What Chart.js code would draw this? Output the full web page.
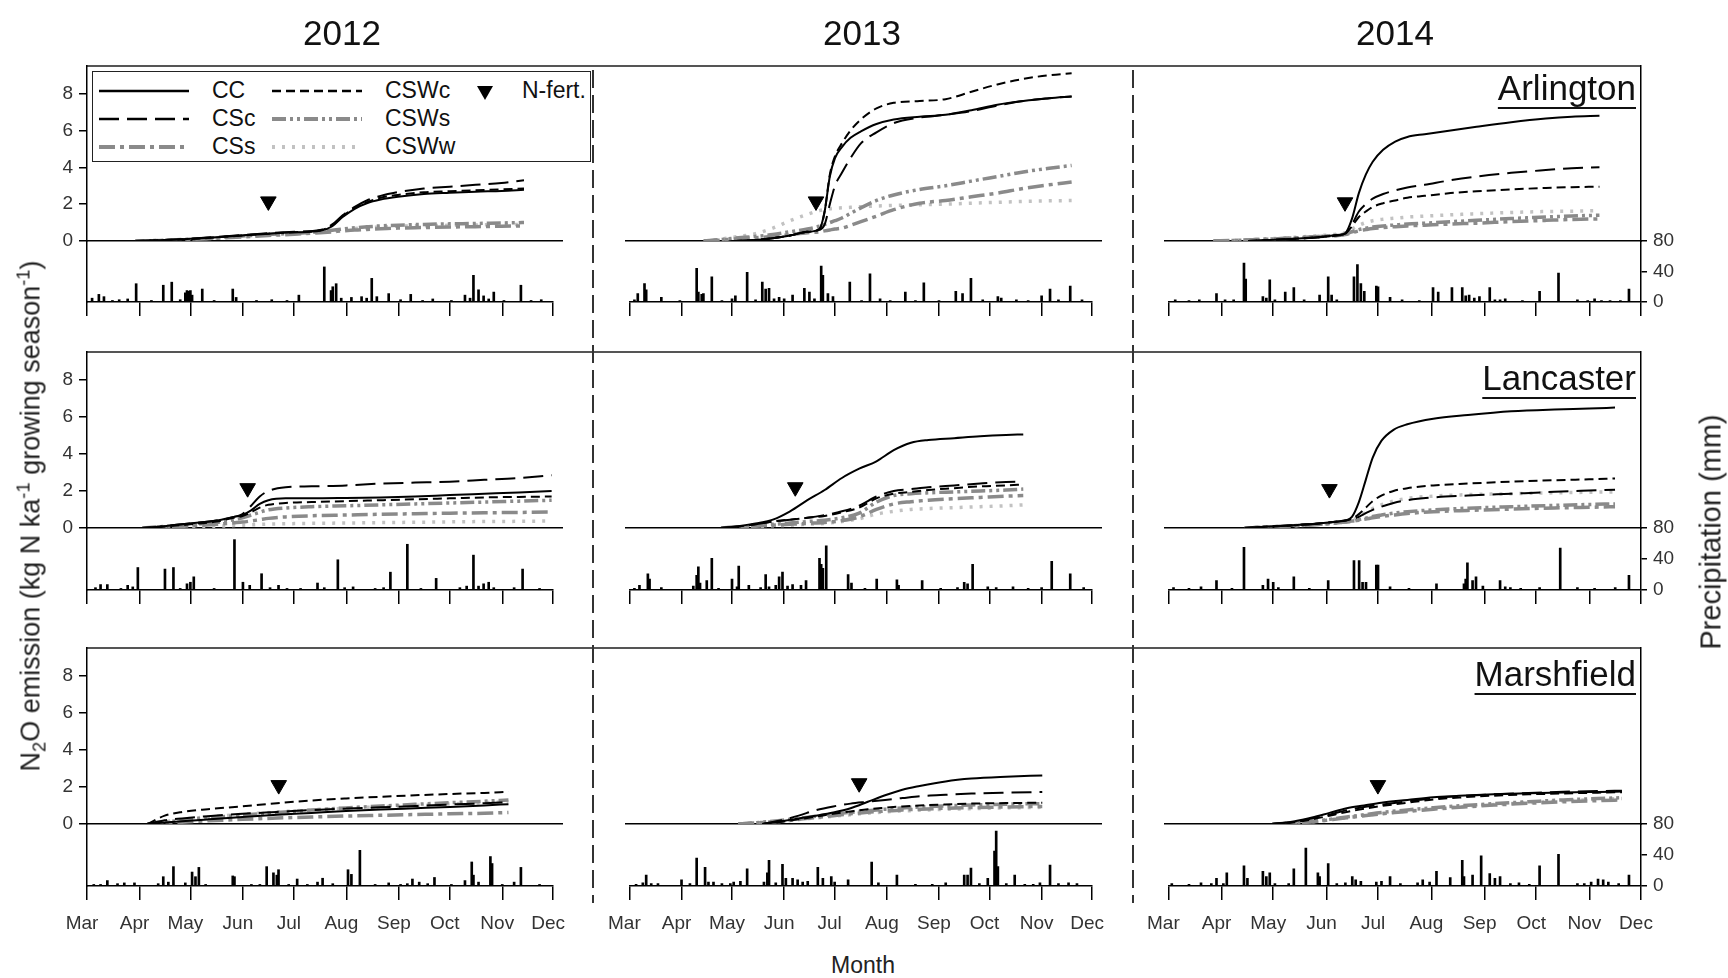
<!DOCTYPE html>
<html><head><meta charset="utf-8">
<script src="https://cdn.jsdelivr.net/npm/chart.js@4.4.1/dist/chart.umd.min.js"></script>
<style>
body{margin:0;background:#fff;}
#fig{position:relative;width:1728px;height:978px;overflow:hidden;font-family:"Liberation Sans",Arial,sans-serif;color:#111;}
#fig canvas{position:absolute;}
.t{position:absolute;white-space:nowrap;line-height:1;}
.c{transform:translate(-50%,-50%);}
.rot{transform:translate(-50%,-50%) rotate(-90deg);}
sub,sup{font-size:0.68em;line-height:0;}
</style></head><body><div id="fig"></div>
<script>
// ---------------- DATA ----------------
const years = ['2012','2013','2014'];
const sites = ['Arlington','Lancaster','Marshfield'];
const months = ['Mar','Apr','May','Jun','Jul','Aug','Sep','Oct','Nov','Dec'];
const monthDays = [0,31,61,92,122,153,184,214,245,275];   // days after 1 March
const n2oTicks = [0,2,4,6,8];
const rainTicks = [0,40,80];
const seriesNames = ['CC','CSc','CSs','CSWc','CSWs','CSWw'];
const fertLabel = 'N-fert.';

// Arlington 2012
const arl2012Days = [28,45,60,75,90,105,120,135,142,148,155,162,170,180,195,210,225,240,253];
const arl2012CC   = [0,0.05,0.12,0.2,0.3,0.4,0.47,0.55,0.8,1.3,1.75,2.05,2.25,2.4,2.55,2.62,2.68,2.72,2.78];
const arl2012CSc  = [0,0.05,0.12,0.22,0.32,0.42,0.5,0.6,0.9,1.4,1.85,2.2,2.45,2.65,2.85,2.95,3.05,3.15,3.3];
const arl2012CSs  = [0,0.03,0.08,0.15,0.22,0.3,0.37,0.45,0.5,0.55,0.6,0.63,0.66,0.7,0.73,0.76,0.78,0.8,0.82];
const arl2012CSWc = [0,0.05,0.1,0.2,0.3,0.4,0.48,0.58,0.85,1.35,1.8,2.1,2.35,2.5,2.65,2.7,2.75,2.8,2.85];
const arl2012CSWs = [0,0.04,0.1,0.18,0.27,0.35,0.42,0.5,0.58,0.65,0.72,0.77,0.82,0.86,0.9,0.93,0.95,0.98,1.0];
const arl2012CSWw = [0,0.04,0.1,0.17,0.25,0.33,0.4,0.48,0.55,0.62,0.68,0.72,0.76,0.8,0.83,0.85,0.87,0.89,0.9];
const arl2012Fert = [105,2.15];
const arl2012Rain = [[3,5],[7,10],[10,7],[15,2],[19,3],[24,4],[29,24],[38,2],[45,22],[50,26],[55,3],[58,12],[59,15],[60,14],[61,15],[62,9],[68,17],[75,2],[86,17],[88,6],[100,2],[109,3],[118,2],[125,9],[140,46],[144,15],[145,20],[147,24],[150,5],[156,6],[162,7],[165,5],[168,31],[171,7],[178,11],[185,3],[191,10],[198,2],[204,4],[215,2],[223,9],[226,5],[228,35],[231,16],[234,8],[237,4],[240,13],[246,2],[256,22],[262,2],[268,3]];

// Arlington 2013
const arl2013Days = [45,55,62,75,85,95,105,112,115,118,121,125,130,136,145,155,170,185,200,215,230,245,258];
const arl2013CC   = [null,null,0,0.05,0.15,0.3,0.5,0.65,1.6,3.5,4.5,5.1,5.6,5.95,6.35,6.6,6.75,6.85,7.1,7.4,7.6,7.75,7.85];
const arl2013CSc  = [null,null,0,0.05,0.15,0.3,0.5,0.6,0.9,2.0,3.0,3.7,4.5,5.3,5.9,6.4,6.7,6.85,7.05,7.35,7.6,7.75,7.85];
const arl2013CSs  = [0,0.05,0.1,0.18,0.25,0.35,0.45,0.5,0.55,0.6,0.65,0.7,0.85,1.05,1.35,1.7,2.05,2.2,2.4,2.6,2.85,3.05,3.2];
const arl2013CSWc = [null,null,0,0.05,0.15,0.3,0.5,0.65,1.6,3.6,4.6,5.3,6.0,6.6,7.2,7.5,7.6,7.7,8.1,8.5,8.8,9.0,9.1];
const arl2013CSWs = [0,0.08,0.15,0.25,0.35,0.5,0.65,0.8,0.9,1.0,1.1,1.25,1.5,1.8,2.2,2.5,2.8,3.0,3.25,3.5,3.75,3.95,4.1];
const arl2013CSWw = [0,0.1,0.2,0.4,0.7,1.1,1.45,1.65,1.7,1.75,1.78,1.8,1.83,1.86,1.9,1.93,1.97,2.0,2.05,2.1,2.15,2.18,2.2];
const arl2013Fert = [110,2.15];
const arl2013Rain = [[3,3],[5,11],[9,24],[10,16],[19,6],[30,2],[40,44],[41,13],[43,10],[44,11],[49,33],[55,2],[61,4],[63,8],[70,39],[75,3],[79,26],[81,17],[83,18],[86,4],[89,6],[92,4],[97,9],[104,18],[107,13],[110,4],[114,47],[115,35],[118,11],[121,7],[131,26],[138,2],[143,37],[149,4],[155,2],[164,13],[170,2],[175,25],[184,2],[194,14],[198,11],[203,31],[210,3],[219,7],[221,5],[230,3],[237,2],[245,8],[250,17],[255,3],[262,21],[269,3]];

// Arlington 2014
const arl2014Days = [28,40,48,60,75,90,100,104,108,112,116,120,126,133,140,150,165,180,200,220,235,251];
const arl2014CC   = [null,null,0,0.05,0.12,0.22,0.32,0.4,1.2,2.6,3.6,4.3,4.95,5.4,5.65,5.8,6.0,6.2,6.45,6.65,6.75,6.8];
const arl2014CSc  = [null,null,0,0.05,0.12,0.22,0.32,0.4,0.9,1.6,2.0,2.3,2.55,2.75,2.9,3.05,3.3,3.5,3.7,3.85,3.95,4.0];
const arl2014CSs  = [0,0.03,0.06,0.1,0.17,0.25,0.3,0.35,0.45,0.55,0.62,0.68,0.73,0.78,0.82,0.86,0.92,0.97,1.05,1.12,1.17,1.2];
const arl2014CSWc = [null,null,0,0.05,0.12,0.22,0.3,0.38,0.8,1.3,1.6,1.85,2.05,2.2,2.35,2.45,2.6,2.7,2.8,2.88,2.92,2.95];
const arl2014CSWs = [0,0.03,0.06,0.1,0.17,0.25,0.32,0.38,0.5,0.62,0.7,0.76,0.82,0.87,0.92,0.97,1.05,1.12,1.22,1.3,1.36,1.4];
const arl2014CSWw = [0,0.03,0.06,0.12,0.2,0.3,0.38,0.45,0.65,0.85,1.0,1.1,1.18,1.24,1.3,1.35,1.42,1.48,1.55,1.6,1.62,1.65];
const arl2014Fert = [104,2.1];
const arl2014Rain = [[4,3],[12,2],[18,3],[28,11],[33,3],[38,3],[44,51],[45,30],[55,7],[57,5],[59,29],[62,3],[68,13],[73,19],[79,3],[88,9],[93,33],[95,9],[98,3],[108,33],[110,49],[112,24],[114,14],[121,21],[122,20],[129,6],[136,3],[146,2],[154,19],[157,13],[165,19],[171,19],[173,8],[175,9],[178,5],[181,7],[187,19],[190,3],[193,3],[196,4],[206,2],[216,14],[227,38],[238,3],[244,2],[248,4],[252,2],[257,2],[263,2],[268,17]];

// Lancaster 2012
const lan2012Days = [32,45,60,75,85,90,95,100,105,115,130,150,170,190,210,230,250,269];
const lan2012CC   = [0,0.1,0.25,0.4,0.6,0.7,0.95,1.3,1.5,1.6,1.6,1.62,1.65,1.7,1.78,1.85,1.92,2.0];
const lan2012CSc  = [0,0.1,0.25,0.4,0.6,0.75,1.2,1.7,2.0,2.2,2.25,2.3,2.4,2.45,2.5,2.6,2.7,2.85];
const lan2012CSs  = [0,0.05,0.12,0.2,0.28,0.32,0.38,0.45,0.52,0.6,0.66,0.7,0.74,0.77,0.8,0.82,0.84,0.86];
const lan2012CSWc = [0,0.08,0.2,0.35,0.55,0.65,0.85,1.1,1.25,1.35,1.4,1.45,1.5,1.55,1.6,1.65,1.68,1.7];
const lan2012CSWs = [0,0.08,0.18,0.3,0.45,0.55,0.7,0.85,0.98,1.08,1.15,1.2,1.25,1.3,1.35,1.4,1.45,1.5];
const lan2012CSWw = [0,0.03,0.06,0.1,0.13,0.15,0.17,0.19,0.21,0.23,0.25,0.27,0.29,0.31,0.33,0.35,0.36,0.38];
const lan2012Fert = [93,2.15];
const lan2012Rain = [[5,3],[8,7],[12,7],[20,2],[24,6],[27,4],[30,29],[46,27],[51,29],[55,2],[59,8],[61,10],[63,17],[75,2],[87,65],[92,10],[96,6],[103,21],[108,3],[113,6],[118,2],[126,2],[136,9],[140,3],[148,39],[152,3],[157,4],[170,2],[175,3],[179,23],[189,59],[197,2],[206,15],[220,3],[224,5],[228,45],[231,5],[234,8],[237,10],[240,3],[252,3],[257,27],[267,2]];

// Lancaster 2013
const lan2013Days = [55,65,75,85,95,105,115,125,135,145,155,165,175,190,205,220,230];
const lan2013CC   = [0,0.1,0.25,0.45,0.9,1.5,2.05,2.7,3.2,3.6,4.2,4.6,4.75,4.85,4.95,5.02,5.05];
const lan2013CSc  = [0,0.08,0.2,0.35,0.45,0.55,0.7,0.9,1.2,1.7,2.0,2.1,2.2,2.3,2.4,2.48,2.5];
const lan2013CSs  = [0,0.05,0.1,0.15,0.2,0.25,0.3,0.4,0.6,1.0,1.3,1.42,1.5,1.58,1.65,1.72,1.75];
const lan2013CSWc = [0,0.08,0.2,0.35,0.45,0.55,0.65,0.85,1.1,1.6,1.85,1.95,2.05,2.15,2.25,2.3,2.35];
const lan2013CSWs = [0,0.06,0.12,0.2,0.27,0.35,0.42,0.55,0.8,1.4,1.75,1.85,1.9,1.95,2.0,2.05,2.1];
const lan2013CSWw = [0,0.04,0.08,0.12,0.15,0.2,0.25,0.35,0.5,0.75,0.9,1.0,1.05,1.1,1.15,1.2,1.25];
const lan2013Fert = [98,2.2];
const lan2013Rain = [[3,2],[6,6],[11,21],[12,14],[19,3],[38,5],[40,19],[41,30],[42,9],[46,12],[49,41],[53,2],[61,14],[64,4],[65,31],[71,6],[78,3],[81,20],[83,4],[87,6],[89,17],[91,23],[94,5],[97,7],[102,6],[105,12],[113,41],[114,33],[115,28],[117,57],[130,20],[132,9],[140,2],[147,14],[159,13],[160,6],[174,12],[185,2],[195,3],[199,10],[201,8],[204,33],[213,4],[218,3],[228,4],[237,2],[245,3],[251,37],[262,21],[270,3]];

// Lancaster 2014
const lan2014Days = [46,60,75,90,100,104,108,112,116,120,125,132,140,155,175,200,225,245,260];
const lan2014CC   = [0,0.08,0.15,0.25,0.35,0.4,0.6,1.4,2.6,3.8,4.7,5.3,5.6,5.9,6.1,6.3,6.4,6.45,6.5];
const lan2014CSc  = [0,0.08,0.15,0.25,0.35,0.4,0.48,0.6,0.8,0.98,1.15,1.35,1.5,1.65,1.75,1.85,1.95,2.02,2.07];
const lan2014CSs  = [0,0.06,0.12,0.2,0.28,0.32,0.36,0.42,0.48,0.55,0.62,0.7,0.78,0.88,0.95,1.02,1.08,1.12,1.15];
const lan2014CSWc = [0,0.08,0.15,0.25,0.35,0.4,0.5,0.75,1.1,1.45,1.75,2.0,2.15,2.3,2.4,2.5,2.58,2.63,2.67];
const lan2014CSWs = [0,0.06,0.12,0.2,0.28,0.32,0.37,0.45,0.53,0.62,0.7,0.8,0.88,0.98,1.07,1.15,1.22,1.27,1.3];
const lan2014CSWw = [0,0.07,0.14,0.22,0.3,0.35,0.42,0.6,0.85,1.05,1.25,1.45,1.6,1.72,1.8,1.85,1.9,1.93,1.95];
const lan2014Fert = [95,2.1];
const lan2014Rain = [[3,3],[12,2],[19,4],[28,12],[37,2],[44,55],[55,6],[58,14],[61,10],[64,3],[73,17],[82,2],[93,12],[108,38],[111,38],[113,10],[115,10],[121,32],[122,32],[129,4],[140,2],[156,8],[172,8],[173,14],[174,35],[177,12],[179,17],[183,5],[193,12],[196,4],[199,3],[205,2],[216,3],[228,54],[238,3],[248,2],[260,3],[268,19]];

// Marshfield 2012
const mar2012Days = [35,45,55,70,90,110,130,150,170,190,210,230,244];
const mar2012CC   = [0,0.08,0.15,0.25,0.38,0.5,0.6,0.7,0.78,0.85,0.92,1.0,1.07];
const mar2012CSc  = [0,0.2,0.3,0.42,0.55,0.65,0.75,0.83,0.9,0.97,1.05,1.12,1.18];
const mar2012CSs  = [0,0.05,0.1,0.17,0.25,0.32,0.38,0.43,0.47,0.51,0.55,0.58,0.62];
const mar2012CSWc = [0,0.45,0.65,0.8,0.95,1.12,1.27,1.38,1.47,1.55,1.62,1.68,1.74];
const mar2012CSWs = [0,0.1,0.2,0.33,0.48,0.62,0.75,0.87,0.97,1.06,1.15,1.23,1.3];
const mar2012CSWw = [0,0.12,0.25,0.38,0.52,0.65,0.76,0.85,0.93,1.0,1.08,1.15,1.2];
const mar2012Fert = [111,2.1];
const mar2012Rain = [[4,2],[8,2],[12,7],[18,3],[22,4],[28,4],[42,3],[45,12],[48,5],[51,25],[58,4],[62,18],[64,12],[66,24],[70,2],[86,13],[87,12],[97,2],[102,2],[106,25],[110,17],[112,14],[113,21],[119,2],[124,9],[130,2],[136,5],[139,10],[145,3],[154,21],[156,15],[161,46],[170,2],[178,4],[185,2],[189,3],[192,9],[196,5],[201,3],[205,11],[215,2],[223,7],[227,31],[228,14],[231,5],[238,38],[239,29],[245,2],[252,5],[256,24],[267,2]];

// Marshfield 2013
const mar2013Days = [65,79,90,100,110,120,130,140,150,160,170,185,200,220,241];
const mar2013CC   = [null,0,0.15,0.3,0.45,0.62,0.85,1.2,1.55,1.85,2.05,2.3,2.45,2.55,2.62];
const mar2013CSc  = [null,0,0.2,0.45,0.75,0.95,1.1,1.2,1.3,1.4,1.5,1.58,1.64,1.69,1.73];
const mar2013CSs  = [0,0.08,0.15,0.25,0.35,0.45,0.55,0.63,0.7,0.76,0.8,0.85,0.89,0.92,0.95];
const mar2013CSWc = [null,0,0.12,0.25,0.4,0.55,0.68,0.8,0.88,0.95,1.0,1.05,1.1,1.13,1.15];
const mar2013CSWs = [0,0.1,0.2,0.3,0.42,0.53,0.63,0.72,0.8,0.87,0.92,0.98,1.03,1.07,1.1];
const mar2013CSWw = [0,0.08,0.15,0.24,0.33,0.42,0.5,0.58,0.65,0.7,0.74,0.79,0.83,0.87,0.9];
const mar2013Fert = [135,2.2];
const mar2013Rain = [[4,2],[8,4],[10,14],[13,3],[17,3],[31,8],[36,3],[40,36],[45,24],[47,5],[50,5],[55,3],[60,3],[62,5],[66,6],[70,22],[80,5],[82,17],[83,33],[87,4],[91,28],[93,10],[97,10],[100,8],[103,5],[106,6],[112,24],[115,10],[120,12],[122,5],[130,8],[144,31],[148,4],[159,14],[170,2],[180,2],[188,4],[199,14],[201,14],[203,23],[208,3],[213,10],[217,45],[218,71],[219,25],[224,3],[229,14],[235,2],[240,2],[244,4],[250,27],[255,3],[261,4],[266,3]];

// Marshfield 2014
const mar2014Days = [62,75,85,95,105,115,125,140,155,170,190,210,230,250,264];
const mar2014CC   = [0,0.15,0.35,0.6,0.85,1.0,1.15,1.3,1.45,1.52,1.6,1.66,1.7,1.73,1.75];
const mar2014CSc  = [0,0.12,0.3,0.5,0.75,0.92,1.05,1.22,1.4,1.5,1.6,1.68,1.74,1.78,1.8];
const mar2014CSs  = [0,0.05,0.12,0.22,0.33,0.45,0.55,0.68,0.8,0.9,1.02,1.12,1.2,1.26,1.3];
const mar2014CSWc = [0,0.1,0.25,0.45,0.65,0.82,0.97,1.15,1.32,1.43,1.53,1.6,1.65,1.69,1.72];
const mar2014CSWs = [0,0.06,0.14,0.25,0.38,0.5,0.62,0.76,0.88,0.98,1.1,1.2,1.3,1.37,1.42];
const mar2014CSWw = [0,0.05,0.12,0.22,0.34,0.46,0.57,0.7,0.83,0.93,1.05,1.15,1.25,1.33,1.38];
const mar2014Fert = [123,2.1];
const mar2014Rain = [[2,3],[12,2],[19,4],[25,3],[28,10],[32,3],[34,17],[44,26],[46,10],[55,19],[57,12],[59,17],[62,3],[70,3],[73,22],[80,49],[87,17],[88,12],[93,29],[98,3],[103,4],[107,12],[109,8],[112,6],[121,5],[124,6],[129,12],[135,3],[145,4],[148,8],[152,5],[156,19],[164,11],[171,33],[172,12],[177,14],[182,39],[187,16],[190,10],[193,12],[199,3],[204,4],[210,2],[216,26],[227,41],[238,3],[242,3],[246,5],[250,9],[253,8],[256,5],[262,3],[268,14]];

// ---------------- PANEL TABLE ----------------
const panels = [
 {row:0,col:0,days:arl2012Days,s:{CC:arl2012CC,CSc:arl2012CSc,CSs:arl2012CSs,CSWc:arl2012CSWc,CSWs:arl2012CSWs,CSWw:arl2012CSWw},fert:arl2012Fert,rain:arl2012Rain},
 {row:0,col:1,days:arl2013Days,s:{CC:arl2013CC,CSc:arl2013CSc,CSs:arl2013CSs,CSWc:arl2013CSWc,CSWs:arl2013CSWs,CSWw:arl2013CSWw},fert:arl2013Fert,rain:arl2013Rain},
 {row:0,col:2,days:arl2014Days,s:{CC:arl2014CC,CSc:arl2014CSc,CSs:arl2014CSs,CSWc:arl2014CSWc,CSWs:arl2014CSWs,CSWw:arl2014CSWw},fert:arl2014Fert,rain:arl2014Rain},
 {row:1,col:0,days:lan2012Days,s:{CC:lan2012CC,CSc:lan2012CSc,CSs:lan2012CSs,CSWc:lan2012CSWc,CSWs:lan2012CSWs,CSWw:lan2012CSWw},fert:lan2012Fert,rain:lan2012Rain},
 {row:1,col:1,days:lan2013Days,s:{CC:lan2013CC,CSc:lan2013CSc,CSs:lan2013CSs,CSWc:lan2013CSWc,CSWs:lan2013CSWs,CSWw:lan2013CSWw},fert:lan2013Fert,rain:lan2013Rain},
 {row:1,col:2,days:lan2014Days,s:{CC:lan2014CC,CSc:lan2014CSc,CSs:lan2014CSs,CSWc:lan2014CSWc,CSWs:lan2014CSWs,CSWw:lan2014CSWw},fert:lan2014Fert,rain:lan2014Rain},
 {row:2,col:0,days:mar2012Days,s:{CC:mar2012CC,CSc:mar2012CSc,CSs:mar2012CSs,CSWc:mar2012CSWc,CSWs:mar2012CSWs,CSWw:mar2012CSWw},fert:mar2012Fert,rain:mar2012Rain},
 {row:2,col:1,days:mar2013Days,s:{CC:mar2013CC,CSc:mar2013CSc,CSs:mar2013CSs,CSWc:mar2013CSWc,CSWs:mar2013CSWs,CSWw:mar2013CSWw},fert:mar2013Fert,rain:mar2013Rain},
 {row:2,col:2,days:mar2014Days,s:{CC:mar2014CC,CSc:mar2014CSc,CSs:mar2014CSs,CSWc:mar2014CSWc,CSWs:mar2014CSWs,CSWw:mar2014CSWw},fert:mar2014Fert,rain:mar2014Rain}
];

// ---------------- STYLE / LAYOUT ----------------
const FONT = '"Liberation Sans", Arial, sans-serif';
const GRAY = '#8a8a8a', LGRAY = '#c2c2c2';
const STY = {
  CC:  {color:'#000', width:2,   dash:[],              order:1},
  CSc: {color:'#000', width:2,   dash:[20,8],          order:1},
  CSs: {color:GRAY,  width:3.5, dash:[16,5,4,5],      order:3},
  CSWc:{color:'#000', width:2,   dash:[9,5],           order:1},
  CSWs:{color:GRAY,  width:3.5, dash:[14,4,3,4,3,4],  order:3},
  CSWw:{color:LGRAY, width:3.5, dash:[3,7],           order:4}
};
const COLS = [{l:87,r:562},{l:626,r:1101},{l:1165,r:1641}];
const ROWS = [{top:66,zero:241,base:302},{top:352,zero:528,base:590},{top:648,zero:824,base:886}];
const PADL = [70,25,25], PADR = [20,20,60];
const fig = document.getElementById('fig');
Chart.defaults.font.family = FONT;

function mkCanvas(x,y,w,h){
  const c=document.createElement('canvas');
  c.width=w;c.height=h;c.style.left=x+'px';c.style.top=y+'px';c.style.width=w+'px';c.style.height=h+'px';
  fig.appendChild(c);return c;
}
function mkText(html,x,y,cls,style){
  const d=document.createElement('div');d.className='t '+(cls||'');d.innerHTML=html;
  d.style.left=x+'px';d.style.top=y+'px';Object.assign(d.style,style||{});fig.appendChild(d);return d;
}
const svgNS='http://www.w3.org/2000/svg';
const svg=document.createElementNS(svgNS,'svg');
svg.setAttribute('width',1728);svg.setAttribute('height',978);
svg.style.position='absolute';svg.style.left='0';svg.style.top='0';
fig.appendChild(svg);
function line(x1,y1,x2,y2,color,w,dash,parent){
  const l=document.createElementNS(svgNS,'line');
  l.setAttribute('x1',x1);l.setAttribute('y1',y1);l.setAttribute('x2',x2);l.setAttribute('y2',y2);
  l.setAttribute('stroke',color);l.setAttribute('stroke-width',w);
  if(dash&&dash.length)l.setAttribute('stroke-dasharray',dash.join(' '));
  (parent||svg).appendChild(l);
}
// frame: top borders and dashed year separators
ROWS.forEach(r=>line(COLS[0].l,r.top,COLS[2].r,r.top,'#555',2));
[593,1133].forEach(x=>line(x,70,x,903,'#333',2,[18,7]));

const commonOpts = {responsive:false,animation:false,devicePixelRatio:1,events:[],
  plugins:{legend:{display:false},tooltip:{enabled:false}}};

panels.forEach(p=>{
  const col=COLS[p.col], row=ROWS[p.row];
  const pl=PADL[p.col], pr=PADR[p.col];
  const cw=pl+(col.r-col.l)+pr;
  // ---- N2O chart ----
  const PT=20,PB=20;
  const cv=mkCanvas(col.l-pl,row.top-PT,cw,PT+(row.zero-row.top)+PB);
  const ds=seriesNames.map(n=>({
    label:n,data:p.days.map((d,i)=>({x:d,y:p.s[n][i]})),
    borderColor:STY[n].color,borderWidth:STY[n].width,borderDash:STY[n].dash,
    pointRadius:0,fill:false,cubicInterpolationMode:'monotone',order:STY[n].order,spanGaps:false
  }));
  ds.push({label:fertLabel,type:'scatter',data:[{x:p.fert[0],y:p.fert[1]}],pointStyle:'triangle',
    rotation:180,pointRadius:9,backgroundColor:'#000',borderColor:'#000',borderWidth:1,order:0});
  let yN;
  if(p.col===0) yN={type:'linear',min:0,max:9.5,position:'left',
      afterBuildTicks:s=>{s.ticks=n2oTicks.map(v=>({value:v}));},afterFit:s=>{s.width=70;},
      ticks:{font:{size:19},color:'#333',padding:6},
      grid:{drawOnChartArea:false,drawTicks:true,tickLength:8,color:'#000',lineWidth:1.5},
      border:{display:true,color:'#000',width:1.5}};
  else if(p.col===1) yN={type:'linear',min:0,max:9.5,display:false};
  else yN={type:'linear',min:0,max:9.5,position:'right',afterFit:s=>{s.width=60;},
      ticks:{display:false},grid:{drawOnChartArea:false,drawTicks:false},
      border:{display:true,color:'#000',width:1.5}};
  new Chart(cv,{type:'line',data:{datasets:ds},options:Object.assign({},commonOpts,{
    layout:{padding:{top:PT,bottom:PB,left:p.col===0?0:pl,right:p.col===2?0:pr}},
    scales:{
      x:{type:'linear',min:0,max:275,position:'bottom',afterFit:s=>{s.height=0;},
         ticks:{display:false},grid:{display:true,drawOnChartArea:false,drawTicks:false},
         border:{display:true,color:'#000',width:1.5}},
      y:yN
    }})});
  // ---- precipitation chart ----
  const PT2=20,XB=60;
  const cv2=mkCanvas(col.l-pl,row.zero-PT2,cw,PT2+(row.base-row.zero)+XB);
  let yP;
  if(p.col===0) yP={type:'linear',min:0,max:80,position:'left',afterFit:s=>{s.width=70;},
      ticks:{display:false},grid:{drawOnChartArea:false,drawTicks:false},
      border:{display:true,color:'#000',width:1.5}};
  else if(p.col===1) yP={type:'linear',min:0,max:80,display:false};
  else yP={type:'linear',min:0,max:80,position:'right',afterFit:s=>{s.width=60;},
      afterBuildTicks:s=>{s.ticks=rainTicks.map(v=>({value:v}));},
      ticks:{font:{size:19},color:'#333',padding:6},
      grid:{drawOnChartArea:false,drawTicks:true,tickLength:6,color:'#000',lineWidth:1.5},
      border:{display:true,color:'#000',width:1.5}};
  new Chart(cv2,{type:'bar',data:{datasets:[{label:'Precipitation',
      data:p.rain.map(r=>({x:r[0],y:r[1]})),backgroundColor:'#000',borderWidth:0,barThickness:2}]},
    options:Object.assign({},commonOpts,{
    layout:{padding:{top:PT2,bottom:0,left:p.col===0?0:pl,right:p.col===2?0:pr}},
    scales:{
      x:{type:'linear',min:0,max:275,position:'bottom',offset:false,afterFit:s=>{s.height=XB;},
         afterBuildTicks:s=>{s.ticks=monthDays.map(v=>({value:v}));},
         ticks:{callback:(v)=>months[monthDays.indexOf(v)],autoSkip:false,maxRotation:0,
                font:{size:19},color:p.row===2?'#333':'rgba(0,0,0,0)',padding:12,labelOffset:-5},
         grid:{offset:false,drawOnChartArea:false,drawTicks:true,tickLength:14,color:'#000',lineWidth:1.5},
         border:{display:true,color:'#000',width:1.5}},
      y:yP
    }})});
});

// ---------------- TEXT ----------------
const yearX=[342,862,1395];
years.forEach((y,i)=>mkText(y,yearX[i],32,'c',{fontSize:'35px'}));
const siteTop=[70,360,656];
sites.forEach((s,i)=>mkText(s,0,siteTop[i],'',{fontSize:'35px',left:'auto',right:(1728-1636)+'px',
  textDecoration:'underline',textDecorationThickness:'2px',textUnderlineOffset:'7px',textDecorationSkipInk:'none'}));
mkText('N<sub>2</sub>O emission (kg N ka<sup>-1</sup> growing season<sup>-1</sup>)',31,516,'rot',{fontSize:'27px',color:'#222'});
mkText('Precipitation (mm)',1711,532,'rot',{fontSize:'29px',color:'#222'});
mkText('Month',863,965,'c',{fontSize:'23px',color:'#222'});

// ---------------- LEGEND ----------------
const lg=document.createElement('div');
Object.assign(lg.style,{position:'absolute',left:'92px',top:'71px',width:'497px',height:'89px',border:'1.5px solid #222',background:'#fff'});
fig.appendChild(lg);
const lsvg=document.createElementNS(svgNS,'svg');
lsvg.setAttribute('width',1728);lsvg.setAttribute('height',978);
lsvg.style.position='absolute';lsvg.style.left='0';lsvg.style.top='0';
fig.appendChild(lsvg);
const legPos = {CC:[99,212,91],CSc:[99,212,119],CSs:[99,212,147],CSWc:[272,385,91],CSWs:[272,385,119],CSWw:[272,385,147]};
seriesNames.forEach(n=>{
  const [sx,tx,cy]=legPos[n];
  line(sx,cy,sx+90,cy,STY[n].color,STY[n].width+0.5,STY[n].dash,lsvg);
  mkText(n,tx,cy-12,'',{fontSize:'23px'});
});
const tri=document.createElementNS(svgNS,'polygon');
tri.setAttribute('points','477,86 493,86 485,100');tri.setAttribute('fill','#000');lsvg.appendChild(tri);
mkText(fertLabel,522,79,'',{fontSize:'23px'});
</script></body></html>
